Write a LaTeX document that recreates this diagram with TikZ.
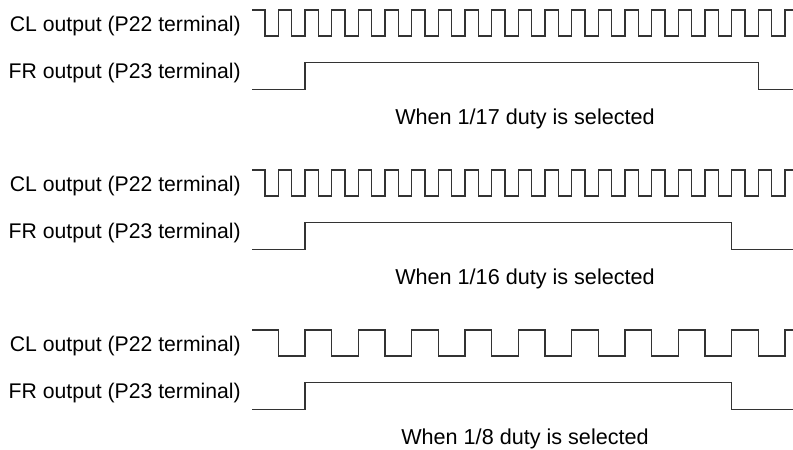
\documentclass[tikz,border=0pt]{standalone}
\usepackage{fontspec}
\setmainfont{Liberation Sans}
\begin{document}
\begin{tikzpicture}[x=1pt,y=-1pt,
  wave/.style={line width=1.2pt,draw=black!80,line join=miter},
  lbl/.style={anchor=base east,inner sep=0pt,font=\fontsize{21.2}{25}\selectfont,text=black},
  captxt/.style={anchor=base,inner sep=0pt,font=\fontsize{21.6}{25}\selectfont,text=black}]
\useasboundingbox (0,0) rectangle (793,450);
% ---------- panel 1: 1/17 duty
\begin{scope}[shift={(0,0)}]
\node[lbl] (cl1) at (241,31.5) {CL output (P22 terminal)};
\node[lbl] (fr1) at (241,78.3) {FR output (P23 terminal)};
\node[captxt] (cap1) at (525,124) {When 1/17 duty is selected};
\draw[wave] (252,10) -- (265,10)
  \foreach \k in {1,...,19}{ -- ++(0,26) -- ++(13.333,0) -- ++(0,-26) -- ++(13.333,0) }
  -- ++(0,26) -- ++(13.333,0) -- ++(0,-26) -- (793,10);
\draw[wave] (252,89.3) -- (305,89.3) -- (305,62.7) -- (758.3,62.7) -- (758.3,89.3) -- (793,89.3);
\end{scope}
% ---------- panel 2: 1/16 duty
\begin{scope}[shift={(0,160)}]
\node[lbl] (cl2) at (241,31.5) {CL output (P22 terminal)};
\node[lbl] (fr2) at (241,78.3) {FR output (P23 terminal)};
\node[captxt] (cap2) at (525,124) {When 1/16 duty is selected};
\draw[wave] (252,10) -- (265,10)
  \foreach \k in {1,...,19}{ -- ++(0,26) -- ++(13.333,0) -- ++(0,-26) -- ++(13.333,0) }
  -- ++(0,26) -- ++(13.333,0) -- ++(0,-26) -- (793,10);
\draw[wave] (252,89.3) -- (305,89.3) -- (305,62.7) -- (731.7,62.7) -- (731.7,89.3) -- (793,89.3);
\end{scope}
% ---------- panel 3: 1/8 duty
\begin{scope}[shift={(0,320)}]
\node[lbl] (cl3) at (241,31.5) {CL output (P22 terminal)};
\node[lbl] (fr3) at (241,78.3) {FR output (P23 terminal)};
\node[captxt] (cap3) at (525,124) {When 1/8 duty is selected};
\draw[wave] (252,10) -- (278.333,10)
  \foreach \k in {1,...,9}{ -- ++(0,26) -- ++(26.667,0) -- ++(0,-26) -- ++(26.667,0) }
  -- ++(0,26) -- ++(26.667,0) -- ++(0,-26) -- (793,10);
\draw[wave] (252,89.3) -- (305,89.3) -- (305,62.7) -- (731.7,62.7) -- (731.7,89.3) -- (793,89.3);
\end{scope}
\end{tikzpicture}
\end{document}
